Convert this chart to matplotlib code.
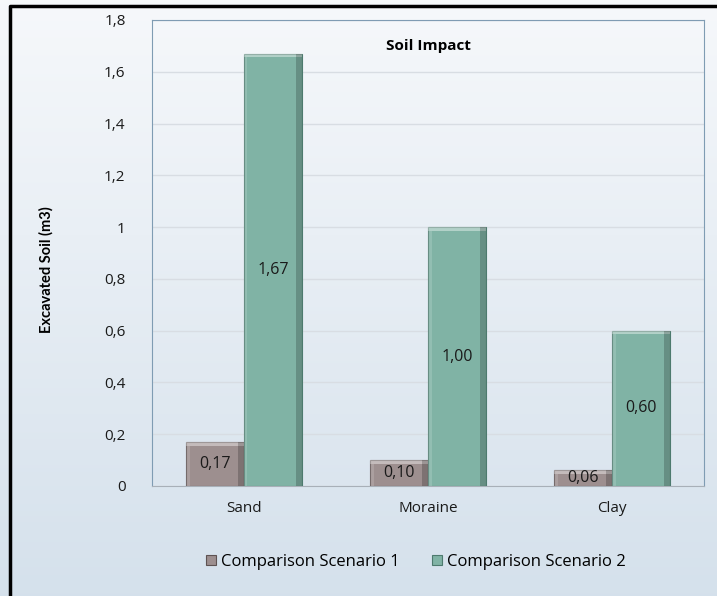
import numpy as np
import matplotlib.pyplot as plt
from matplotlib.patches import Rectangle

categories = ["Sand", "Moraine", "Clay"]
scenario1 = [0.17, 0.10, 0.06]
scenario2 = [1.67, 1.00, 0.60]
series_names = ["Comparison Scenario 1", "Comparison Scenario 2"]
yticks = [0, 0.2, 0.4, 0.6, 0.8, 1, 1.2, 1.4, 1.6, 1.8]

plt.rcParams["font.family"] = ["Open Sans", "DejaVu Sans"]

fig = plt.figure(figsize=(7.17, 5.96), dpi=100)

# light blue gradient behind everything
bg = fig.add_axes([0, 0, 1, 1], zorder=0)
grad = np.linspace(0, 1, 256).reshape(-1, 1)
top = np.array([0.965, 0.973, 0.984])
bot = np.array([0.835, 0.882, 0.925])
img = top + (bot - top) * grad[:, :, None]
bg.imshow(img, aspect="auto", extent=[0, 1, 0, 1])
bg.set_axis_off()
bg.plot([0.014, 0.014, 1.2], [-0.1, 0.99, 0.99], color="black", lw=2.5,
        transform=bg.transAxes, clip_on=False)
bg.set_xlim(0, 1)
bg.set_ylim(0, 1)

ax = fig.add_axes([0.212, 0.1846, 0.770, 0.7819], zorder=1)
ax.set_facecolor("none")

x = np.arange(len(categories))
w = 0.315
colors = ["#9d8f8f", "#80b3a5"]
edges = ["#5e5252", "#4d7a6e"]


def bevel_bars(xs, vals, color, edge):
    bars = ax.bar(xs, vals, w, color=color, edgecolor=edge, lw=0.8, zorder=3)
    for b in bars:
        h = b.get_height()
        x0 = b.get_x()
        s = min(0.014, h * 0.2)
        # lighter top face, darker right side, soft left highlight
        ax.add_patch(Rectangle((x0, h - s), w, s, color="white", alpha=0.4,
                               lw=0, zorder=4))
        ax.add_patch(Rectangle((x0 + w * 0.9, 0), w * 0.1, h, color="black",
                               alpha=0.2, lw=0, zorder=4))
        ax.add_patch(Rectangle((x0, 0), w * 0.06, h - s, color="white",
                               alpha=0.15, lw=0, zorder=4))
    return bars


b1 = bevel_bars(x - w / 2, scenario1, colors[0], edges[0])
b2 = bevel_bars(x + w / 2, scenario2, colors[1], edges[1])

for bars, vals in [(b1, scenario1), (b2, scenario2)]:
    for b, v in zip(bars, vals):
        ax.text(b.get_x() + w / 2, v / 2, f"{v:.2f}".replace(".", ","),
                ha="center", va="center", fontsize=11.5, color="#1a1a1a",
                zorder=5)

ax.set_xlim(-0.5, 2.5)
ax.set_ylim(0, 1.8)
ax.set_yticks(yticks)
ax.set_yticklabels([f"{t:g}".replace(".", ",") for t in yticks])
ax.set_xticks(x)
ax.set_xticklabels(categories)
ax.tick_params(axis="both", length=0, labelsize=11, colors="#1a1a1a")
ax.tick_params(axis="y", pad=19)
ax.tick_params(axis="x", pad=11)
ax.grid(axis="y", color="#d8dde3", lw=1, zorder=1)
for side in ["left", "right", "top"]:
    ax.spines[side].set_color("#7f9cb3")
ax.spines["bottom"].set_color("#a8b0b8")

ax.set_ylabel("Excavated Soil (m3)", fontsize=10.5, fontweight="bold",
              family=["Lato", "DejaVu Sans"])
ax.yaxis.set_label_coords(-0.178, 0.4635)
ax.text(0.5, 0.945, "Soil Impact", transform=ax.transAxes, ha="center",
        va="center", fontsize=11, fontweight="bold")

fig.legend([b1, b2], series_names, loc="center", bbox_to_anchor=(0.58, 0.057),
           ncol=2, frameon=False, fontsize=12, handlelength=0.6,
           handleheight=0.6, columnspacing=1.9, handletextpad=0.3)

fig.savefig("out.png", dpi=100)
